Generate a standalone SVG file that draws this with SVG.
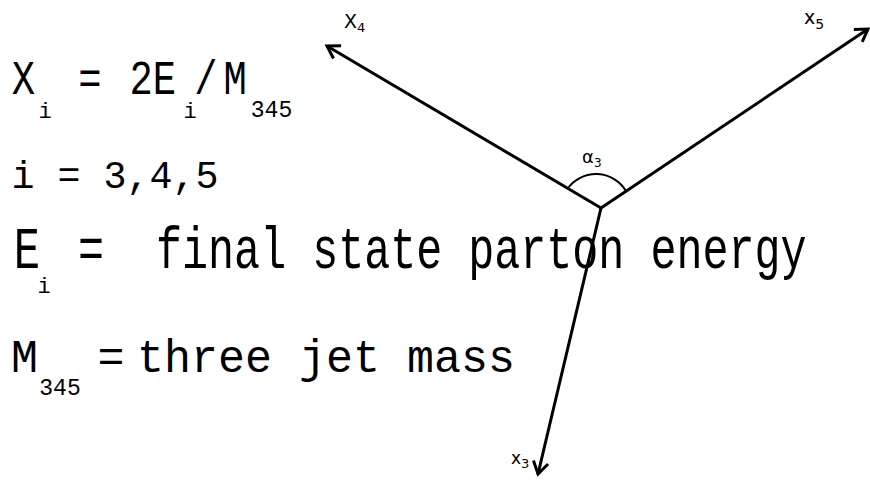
<svg xmlns="http://www.w3.org/2000/svg" width="870" height="480" viewBox="0 0 870 480">
<style>
.m{font-family:"Liberation Mono","DejaVu Sans Mono",monospace;fill:#000;white-space:pre}
.l{font-family:"DejaVu Sans","Liberation Sans",sans-serif;fill:#000}
.v{stroke:#000;stroke-width:3;fill:none}
</style>
<defs>
<marker id="ah" markerUnits="userSpaceOnUse" viewBox="-16 -10 20 20" refX="0" refY="0" markerWidth="20" markerHeight="20" orient="auto">
<path d="M-12,-7.5 L0,0 L-12,7.5" fill="none" stroke="#000" stroke-width="3" stroke-linejoin="miter"/>
</marker>
</defs>
<rect width="870" height="480" fill="#fff"/>
<g id="formula">
<g transform="translate(0,94) scale(0.8,1)"><text class="m" font-size="48.5" text-anchor="middle" x="29.4 112.5 176.3 205.6 257.5 293.8" y="0">X=2E/M</text></g>
<text class="m" font-size="22" text-anchor="middle" x="45" y="118">i</text>
<text class="m" font-size="22" text-anchor="middle" x="190" y="118">i</text>
<text class="m" font-size="23" text-anchor="middle" x="271.5" y="117">345</text>
</g>
<g id="index">
<g transform="translate(11.5,188) scale(0.97,1)"><text class="m" font-size="39.5" x="0" y="0" xml:space="preserve">i = 3,4,5</text></g>
</g>
<g id="energy">
<g transform="translate(27,268) scale(0.743,1)"><text class="m" font-size="59" text-anchor="middle" x="0" y="0">E</text></g>
<text class="m" font-size="22" text-anchor="middle" x="44" y="293">i</text>
<g transform="translate(78,268) scale(0.735,1)"><text class="m" font-size="59" x="0" y="0" xml:space="preserve">=  final state parton energy</text></g>
</g>
<g id="mass">
<g transform="translate(24.5,372) scale(0.957,1)"><text class="m" font-size="47" text-anchor="middle" x="0" y="0">M</text></g>
<text class="m" font-size="23" text-anchor="middle" x="60" y="395">345</text>
<g transform="translate(111,372) scale(0.957,1)"><text class="m" font-size="47" text-anchor="middle" x="0" y="0">=</text></g>
<g transform="translate(137,372) scale(0.957,1)"><text class="m" font-size="47" x="0" y="0" xml:space="preserve">three jet mass</text></g>
</g>
<g id="connectors">
<path class="v" d="M601,208 L327,46" marker-end="url(#ah)"/>
<path class="v" d="M601,208 L868,29" marker-end="url(#ah)"/>
<path class="v" d="M601,208 L538,474" marker-end="url(#ah)"/>
<path d="M568,188 A35,35 0 0 1 626,191" fill="none" stroke="#000" stroke-width="2"/>
</g>
<g id="label-x4"><text class="l" font-size="19" x="344" y="28">X<tspan font-size="13" dy="4">4</tspan></text></g>
<g id="label-x5"><text class="l" font-size="19" x="804" y="24">x<tspan font-size="14" dy="5">5</tspan></text></g>
<g id="label-x3"><text class="l" font-size="17" x="511" y="464">x<tspan font-size="13" dy="4">3</tspan></text></g>
<g id="label-a3"><text class="l" font-size="18" x="582" y="163">α<tspan font-size="12" dy="4">3</tspan></text></g>
</svg>
